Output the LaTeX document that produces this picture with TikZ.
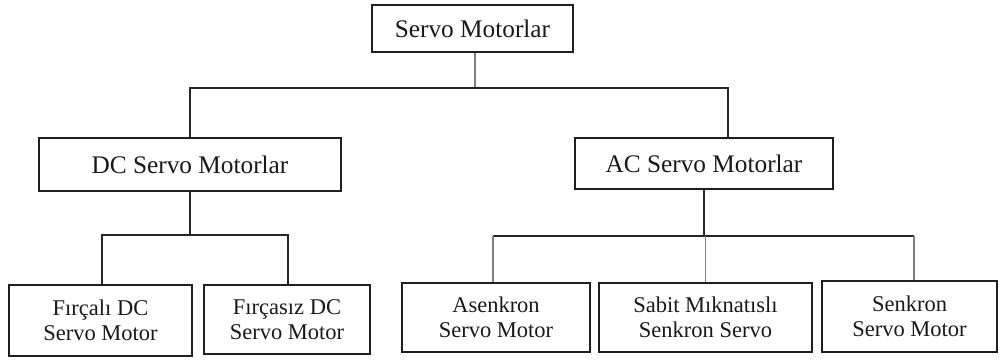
\documentclass[tikz,border=0pt]{standalone}
\usepackage{fontspec}
\setmainfont{Liberation Serif}
\begin{document}
\begin{tikzpicture}[x=1pt,y=-1pt,
  box/.style={draw=black!88,line width=1.8pt,inner sep=0pt,align=center,text=black!90},
  big/.style={box,font=\fontsize{25.3}{30}\selectfont},
  small/.style={box,font=\fontsize{22.5}{25}\selectfont},
  link/.style={draw=black!85,line width=1.8pt},
  glink/.style={draw=black!50,line width=1.8pt}]
\useasboundingbox (0,0) rectangle (1000,361);
\node[big,minimum width=201pt,minimum height=47pt] (top) at (472.5,28.5) {Servo Motorlar};
\node[big,minimum width=302pt,minimum height=53pt] (dc) at (190,164.5) {DC Servo Motorlar};
\node[big,minimum width=258pt,minimum height=51pt] (ac) at (704,163.5) {AC Servo Motorlar};
\node[small,minimum width=183pt,minimum height=71pt] (f1) at (100.5,320.5) {Fırçalı DC\\Servo Motor};
\node[small,minimum width=166pt,minimum height=69pt] (f2) at (287,319.5) {Fırçasız DC\\Servo Motor};
\node[small,minimum width=188pt,minimum height=69pt] (as) at (496,317.5) {Asenkron\\Servo Motor};
\node[small,minimum width=213pt,minimum height=69pt] (sb) at (705.5,317.5) {Sabit Mıknatıslı\\Senkron Servo};
\node[small,minimum width=175pt,minimum height=71pt] (sk) at (909.5,316.5) {Senkron\\Servo Motor};
\coordinate (b1) at (475,88);
\coordinate (b2) at (190,235);
\coordinate (b3) at (704,236);
% level 1
\path[glink] ([xshift=2.5pt]top.south) -- (b1);
\path[link] (dc.north) |- (b1) -| ([xshift=24pt]ac.north);
% DC children
\path[link] (dc.south) -- (b2);
\path[link] ([xshift=1.5pt]f1.north) |- (b2) -| ([xshift=1pt]f2.north);
% AC children
\path[link] (ac.south) -- (b3);
\path[link] ([xshift=-3pt]as.north |- b3) -- ([xshift=4.5pt]sk.north |- b3);
\path[glink] ([xshift=-3pt]as.north) -- ([xshift=-3pt]as.north |- b3);
\path[glink] (sb.north) -- (sb.north |- b3);
\path[glink] ([xshift=4.5pt]sk.north) -- ([xshift=4.5pt]sk.north |- b3);
\end{tikzpicture}
\end{document}
